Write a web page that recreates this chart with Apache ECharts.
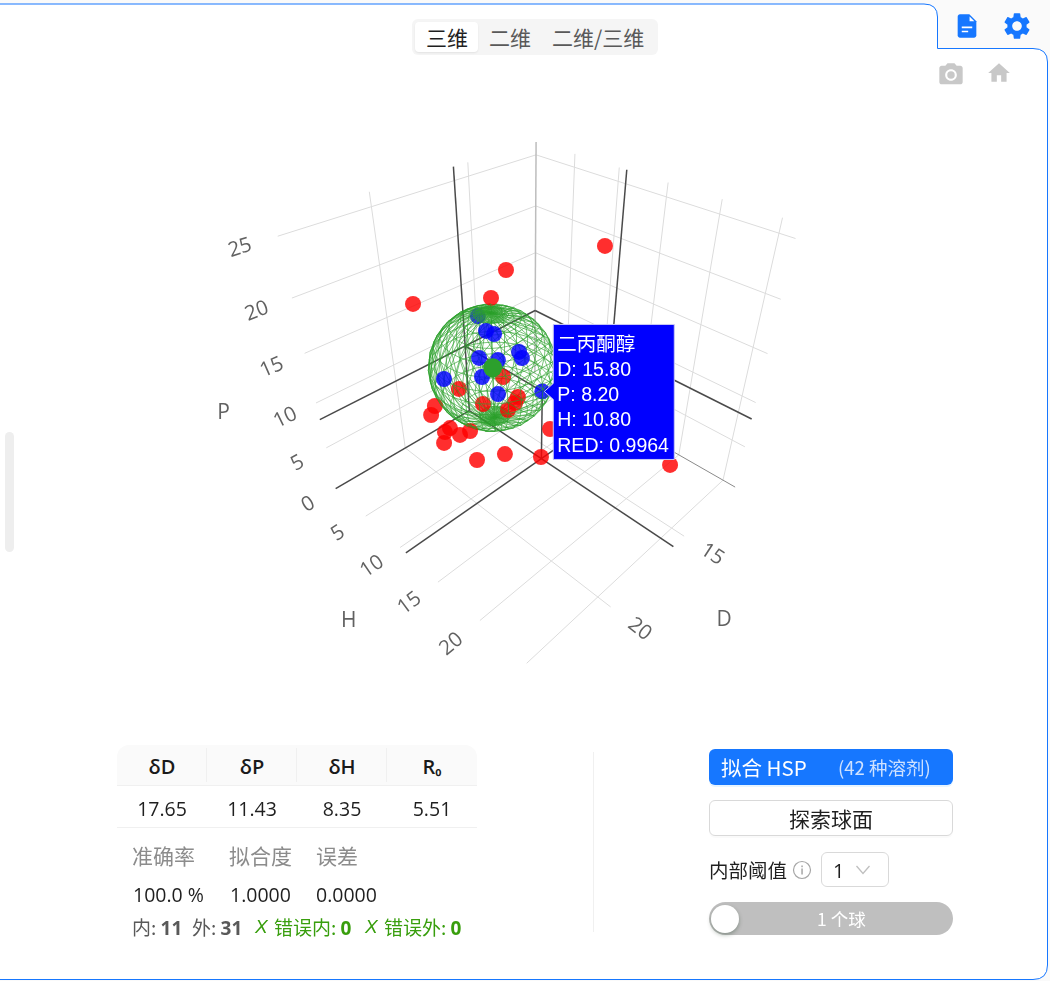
<!DOCTYPE html>
<html lang="zh-CN"><head><meta charset="utf-8"><title>HSP 三维视图</title>
<script src="https://cdn.jsdelivr.net/npm/echarts@6/dist/echarts.min.js"></script>
<style>
html,body{margin:0;padding:0;width:1050px;height:981px;overflow:hidden;background:#fafafa;font-family:"Open Sans","Noto Sans CJK SC",sans-serif;color:#1f1f1f}
#frame,#chart,#ui{position:absolute;left:0;top:0;width:1050px;height:981px}
#ui{pointer-events:none}
.a{position:absolute;white-space:nowrap;line-height:1}
.cjk{font-family:"Noto Sans CJK SC","Noto Sans",sans-serif;font-weight:400}
.box{position:absolute;box-sizing:border-box}
.c{transform:translateX(-50%)}
.head{font-weight:600;font-size:20px;top:757px;color:#1a1a1a}
.val{font-size:19.5px;top:799px;color:#1f1f1f}
.lab{font-size:21px;top:845px;color:#8c8c8c}
.num{font-size:19.5px;top:885px;color:#1f1f1f}
.st{font-size:19px;top:917px;color:#595959}
.st b{font-family:"Open Sans";font-weight:700}
.ok{color:#389e0d}
</style></head>
<body>
<svg id="frame" viewBox="0 0 1050 981"><path d="M-3 4H924Q937.500 4 937.500 17V48.500H1033Q1047.500 48.500 1047.500 62V965Q1047.500 979.500 1033 979.500H-3Z" fill="#fff" stroke="#1677ff" stroke-width="1"/></svg>
<div id="chart"></div>
<div id="ui">
  <div class="box" style="left:5px;top:432px;width:9px;height:120px;background:#eee;border-radius:5px"></div>

  <div class="box" style="left:412px;top:19px;width:246px;height:36px;background:#f5f5f5;border-radius:6px"></div>
  <div class="box" style="left:415px;top:22px;width:63px;height:30px;background:#fff;border-radius:4px;box-shadow:0 1px 2px rgba(0,0,0,.08)"></div>
  <span class="a cjk" style="left:426px;top:27px;font-size:21px;color:#1f1f1f">三维</span>
  <span class="a cjk" style="left:489px;top:27px;font-size:21px;color:#595959">二维</span>
  <span class="a cjk" style="left:552px;top:27px;font-size:21px;color:#595959">二维/三维</span>

  <svg class="box" style="left:953px;top:12px" width="28" height="28" viewBox="0 0 24 24"><path fill="#1677ff" d="M14 2H6c-1.100 0-2 .9-2 2v16c0 1.100.9 2 2 2h12c1.100 0 2-.9 2-2V8l-6-6z"/><path fill="#fff" d="M14.200 3.800 18.300 8h-4.100zM7.500 12.500h9v1.400h-9zM7.500 16h5.500v1.400H7.500z"/></svg>
  <svg class="box" style="left:1001px;top:10px" width="32" height="32" viewBox="0 0 24 24"><path fill="#1677ff" d="M19.140 12.940c.04-.3.06-.61.06-.94 0-.32-.02-.64-.07-.94l2.030-1.580a.49.49 0 0 0 .12-.61l-1.920-3.320a.488.488 0 0 0-.59-.22l-2.390.96c-.5-.38-1.030-.7-1.620-.94l-.36-2.540a.484.484 0 0 0-.48-.41h-3.840c-.24 0-.43.17-.47.41l-.36 2.540c-.59.24-1.130.57-1.620.94l-2.390-.96c-.22-.08-.47 0-.59.22L2.740 8.870c-.12.21-.08.47.12.61l2.030 1.580c-.05.3-.09.63-.09.94s.02.64.07.94l-2.030 1.580a.49.49 0 0 0-.12.61l1.920 3.320c.12.22.37.29.59.22l2.390-.96c.5.38 1.030.7 1.620.94l.36 2.540c.05.24.24.41.48.41h3.840c.24 0 .44-.17.47-.41l.36-2.540c.59-.24 1.130-.56 1.620-.94l2.390.96c.22.08.47 0 .59-.22l1.920-3.320c.12-.22.07-.47-.12-.61l-2.010-1.580zM12 15.600c-1.980 0-3.600-1.620-3.600-3.600s1.620-3.600 3.600-3.600 3.600 1.620 3.600 3.600-1.620 3.600-3.600 3.600z"/></svg>
  <svg class="box" style="left:937px;top:61px" width="28" height="28" viewBox="0 0 24 24"><path fill="#c8c8c8" d="M9 2 7.170 4H4c-1.100 0-2 .9-2 2v12c0 1.100.9 2 2 2h16c1.100 0 2-.9 2-2V6c0-1.100-.9-2-2-2h-3.170L15 2H9zm3 15c-2.760 0-5-2.240-5-5s2.240-5 5-5 5 2.240 5 5-2.240 5-5 5z"/><circle cx="12" cy="12" r="3.200" fill="#c8c8c8"/></svg>
  <svg class="box" style="left:986px;top:60px" width="26" height="26" viewBox="0 0 24 24"><path fill="#c8c8c8" d="M10 20v-6h4v6h5v-8h3L12 3 2 12h3v8z"/></svg>

  <div class="box" style="left:117px;top:745px;width:360px;height:41px;background:#fafafa;border-radius:12px 12px 0 0;border-bottom:1px solid #f0f0f0"></div>
  <div class="box" style="left:206px;top:748px;width:1px;height:34px;background:#f0f0f0"></div>
  <div class="box" style="left:296px;top:748px;width:1px;height:34px;background:#f0f0f0"></div>
  <div class="box" style="left:386px;top:748px;width:1px;height:34px;background:#f0f0f0"></div>
  <div class="box" style="left:117px;top:827px;width:360px;height:1px;background:#f0f0f0"></div>
  <span class="a c head" style="left:162px">δD</span><span class="a c head" style="left:252px">δP</span><span class="a c head" style="left:342px">δH</span><span class="a c head" style="left:432px">R<span style="font-size:17px">₀</span></span>
  <span class="a c val" style="left:162px">17.65</span><span class="a c val" style="left:252px">11.43</span><span class="a c val" style="left:342px">8.35</span><span class="a c val" style="left:432px">5.51</span>
  <span class="a lab cjk" style="left:132px">准确率</span><span class="a lab cjk" style="left:229px">拟合度</span><span class="a lab cjk" style="left:316px">误差</span>
  <span class="a num" style="left:133px">100.0 %</span><span class="a num" style="left:230px">1.0000</span><span class="a num" style="left:316px">0.0000</span>
  <span class="a st cjk" style="left:132px">内: <b>11</b></span><span class="a st cjk" style="left:192px">外: <b>31</b></span>
  <span class="a st ok" style="left:255px;font-family:'Liberation Sans';font-style:italic;font-weight:400">X</span><span class="a st cjk ok" style="left:274px">错误内: <b>0</b></span>
  <span class="a st ok" style="left:365px;font-family:'Liberation Sans';font-style:italic;font-weight:400">X</span><span class="a st cjk ok" style="left:384px">错误外: <b>0</b></span>

  <div class="box" style="left:593px;top:752px;width:1px;height:180px;background:#f0f0f0"></div>

  <div class="box" style="left:709px;top:749px;width:244px;height:36px;background:#1677ff;border-radius:6px;box-shadow:0 2px 0 rgba(5,145,255,.1)"></div>
  <span class="a cjk" style="left:721px;top:757px;font-size:20.500px;color:#fff">拟合 HSP</span>
  <span class="a cjk" style="left:838px;top:758px;font-size:18.500px;color:#cfe2ff">(42 种溶剂)</span>
  <div class="box" style="left:709px;top:800px;width:244px;height:36px;background:#fff;border:1px solid #d9d9d9;border-radius:6px;box-shadow:0 2px 0 rgba(0,0,0,.02)"></div>
  <span class="a cjk" style="left:789px;top:808px;font-size:21px;color:#1f1f1f">探索球面</span>
  <span class="a cjk" style="left:709px;top:860px;font-size:19.500px;color:#1f1f1f">内部阈值</span>
  <svg class="box" style="left:792px;top:860px" width="20" height="20" viewBox="0 0 20 20"><circle cx="10" cy="10" r="8.500" fill="none" stroke="#a6a6a6" stroke-width="1.200"/><rect x="9.300" y="8.500" width="1.500" height="6" fill="#a6a6a6"/><rect x="9.300" y="5.500" width="1.500" height="1.700" fill="#a6a6a6"/></svg>
  <div class="box" style="left:821px;top:852px;width:68px;height:35px;background:#fff;border:1px solid #d9d9d9;border-radius:6px"></div>
  <span class="a" style="left:833px;top:861px;font-size:20px">1</span>
  <svg class="box" style="left:855px;top:864px" width="16" height="12" viewBox="0 0 16 12"><path d="M1.500 2 8 9.500 14.500 2" fill="none" stroke="#bfbfbf" stroke-width="1.300"/></svg>
  <div class="box" style="left:709px;top:902px;width:244px;height:33px;background:#bfbfbf;border-radius:17px"></div>
  <div class="box" style="left:711px;top:905px;width:28px;height:28px;background:#fff;border-radius:50%;box-shadow:0 2px 4px rgba(0,35,11,.3)"></div>
  <span class="a cjk" style="left:817px;top:910px;font-size:17.500px;color:#fff">1 个球</span>
</div>
<script>
// Fitted solvents, Hansen parameters
const insideD = [17.31, 17.26, 17.05, 16.56, 16.58, 17.92, 17.35, 18.16, 19.47, 17.97, 15.80];
const insideP = [15.32, 14.15, 13.90, 12.55, 12.12, 12.18, 11.97, 10.81, 10.94, 9.60, 8.20];
const insideH = [5.93, 6.79, 7.34, 9.40, 9.79, 7.24, 8.39, 8.06, 6.12, 9.63, 10.80];
const outsideD = [13.09, 15.87, 16.65, 19.36, 20.01, 20.60, 20.23, 20.48, 20.04, 19.20, 20.74, 20.04, 19.03, 18.04, 17.15, 15.30, 17.91, 17.34, 16.02, 16.29, 16.74, 15.86, 14.85, 14.74, 13.65, 14.23, 16.29, 15.45, 15.53, 15.17, 15.14];
const outsideP = [21.33, 18.90, 16.69, 16.74, 8.48, 8.71, 7.70, 7.51, 7.20, 6.22, 6.88, 5.66, 5.89, 5.80, 7.47, 7.35, 7.16, 5.85, 6.33, 6.01, 5.65, 7.29, 13.04, 11.69, 14.04, 10.66, 8.23, 8.24, 9.95, 8.13, 9.62];
const outsideH = [12.58, 6.51, 6.22, 2.46, 5.92, 6.90, 8.39, 8.31, 9.21, 8.52, 8.75, 11.28, 12.60, 14.97, 14.32, 24.20, 4.10, 6.09, 8.08, 8.24, 8.21, 5.74, 13.39, 15.55, 16.83, 20.20, 15.62, 19.19, 15.33, 21.39, 17.48];
const meshedInside = [0, 10];

// Fitted Hansen sphere
const sphereD = 17.65, sphereP = 11.43, sphereH = 8.35, sphereR = 5.51;

// Hovered solvent
const hoverName = '二丙酮醇';
const hoverD = 15.80, hoverP = 8.20, hoverH = 10.80, hoverRED = 0.9964;

// Axis ranges and ticks
const rangeD = [10.82, 23.96], rangeH = [0.2, 26.3], rangeP = [0, 26.2];
const ticksD = [15, 20];
const ticksH = [5, 10, 15, 20, 25];
const ticksP = [0, 5, 10, 15, 20, 25];
const labelledH = [5, 10, 15, 20];

// Scene camera: projective map from the unit box to the page
const camX = [-265.4446, 62.9815, -102.4730, 534.8334];
const camY = [19.7063, 23.6603, -257.9960, 372.4400];
const camW = [-0.1974, -0.1868, -0.1935, 1];

function project(D, P, H) {
  const u = (D - rangeD[0]) / (rangeD[1] - rangeD[0]);
  const v = (H - rangeH[0]) / (rangeH[1] - rangeH[0]);
  const w = (P - rangeP[0]) / (rangeP[1] - rangeP[0]);
  const row = m => m[0] * u + m[1] * v + m[2] * w + m[3];
  const d = row(camW);
  return [row(camX) / d, row(camY) / d];
}
const seg = (a, b) => ({ coords: [project(...a), project(...b)] });
const [Dl, Dh] = rangeD, [Hl, Hh] = rangeH, [Pl, Ph] = rangeP;

// Walls and floor
const gridSegs = [];
ticksD.forEach(d => {
  gridSegs.push(seg([d, Pl, Hl], [d, Pl, Hh]));
  gridSegs.push(seg([d, Pl, Hl], [d, Ph, Hl]));
});
ticksH.forEach(h => {
  gridSegs.push(seg([Dl, Pl, h], [Dh, Pl, h]));
  gridSegs.push(seg([Dl, Pl, h], [Dl, Ph, h]));
});
ticksP.filter(p => p > 0).forEach(p => {
  gridSegs.push(seg([Dl, p, Hl], [Dh, p, Hl]));
  gridSegs.push(seg([Dl, p, Hl], [Dl, p, Hh]));
});
gridSegs.push(seg([Dl, Pl, Hl], [hoverD, Pl, Hl]));

// Spike lines from the hovered solvent to the walls and floor
const spikeSegs = [
  seg([hoverD, hoverP, hoverH], [hoverD, Pl, hoverH]),
  seg([hoverD, hoverP, hoverH], [hoverD, hoverP, Hl]),
  seg([hoverD, hoverP, hoverH], [Dl, hoverP, hoverH]),
  seg([hoverD, Pl, Hl], [hoverD, Pl, Hh]),
  seg([Dl, Pl, hoverH], [Dh, Pl, hoverH]),
  seg([hoverD, Pl, Hl], [hoverD, Ph, Hl]),
  seg([Dl, hoverP, Hl], [Dh, hoverP, Hl]),
  seg([Dl, Pl, hoverH], [Dl, Ph, hoverH]),
  seg([Dl, hoverP, Hl], [Dl, hoverP, Hh]),
  seg([hoverD, Pl, Hl], [Dh, Pl, Hl])
];

// Wireframe of the sphere, with the rings packed tighter round both poles;
// δD counts double in the Hansen distance
const meshLats = [];
for (let a = 1.5; a <= 15; a += 1.5) meshLats.push(a);
for (let a = 27; a <= 153; a += 12) meshLats.push(a);
for (let a = 165; a <= 178.5; a += 1.5) meshLats.push(a);
const meshMeridians = 30;
function spherePoint(latDeg, j) {
  const lat = latDeg * Math.PI / 180, lon = 2 * Math.PI * j / meshMeridians;
  return [sphereD + sphereR / 2 * Math.sin(lat) * Math.cos(lon), sphereP + sphereR * Math.cos(lat), sphereH + sphereR * Math.sin(lat) * Math.sin(lon)];
}
const meshBack = [], meshFront = [];
const allLats = [0, ...meshLats, 180];
const cellArea = (a, b, c) => {
  const p = project(...a), q = project(...b), r = project(...c);
  return (q[0] - p[0]) * (r[1] - p[1]) - (q[1] - p[1]) * (r[0] - p[0]);
};
// The cells round the upper pole face the camera, so their winding marks the near side
const nearSign = Math.sign(cellArea(spherePoint(9, 0), spherePoint(15, 0), spherePoint(15, 1)));
for (let i = 0; i + 1 < allLats.length; i++) for (let j = 0; j < meshMeridians; j++) {
  const a = spherePoint(allLats[i], j), b = spherePoint(allLats[i + 1], j), c = spherePoint(allLats[i + 1], j + 1);
  const bucket = Math.sign(cellArea(a, b, c)) === nearSign ? meshFront : meshBack;
  bucket.push(seg(a, b));
  if (i > 0) bucket.push(seg(a, spherePoint(allLats[i], j + 1)));
  bucket.push(seg(a, c));
}

const redPts = outsideD.map((d, i) => project(d, outsideP[i], outsideH[i]));
const bluePts = insideD.map((d, i) => project(d, insideP[i], insideH[i]));
const blueUnder = bluePts.filter((_, i) => meshedInside.includes(i));
const blueOver = bluePts.filter((_, i) => !meshedInside.includes(i));

// Tick labels sit just outside the floor edges, turned along their grid lines
function tickLabel(text, at, from, to) {
  const a = project(...from), b = project(...to);
  const p = project(...at);
  return {
    value: p,
    label: { show: true, position: 'inside', formatter: String(text), rotate: -Math.atan2(b[1] - a[1], b[0] - a[0]) * 180 / Math.PI }
  };
}
const tickData = [
  ...ticksP.map(p => tickLabel(p, [Dh + 1.4, p, Hl], [Dh, p, Hl], [Dl, p, Hl])),
  ...labelledH.map(h => tickLabel(h, [Dh + 1.4, Pl, h], [Dh, Pl, h], [Dl, Pl, h])),
  ...ticksD.map(d => tickLabel(d, [d, Pl, Hh + 2.8], [d, Pl, Hl], [d, Pl, Hh]))
];
const titleData = [
  { value: project(Dh + 3.6, 13, Hl), label: { show: true, position: 'inside', formatter: 'P' } },
  { value: project(Dh + 3.5, Pl, 13), label: { show: true, position: 'inside', formatter: 'H' } },
  { value: project(17.4, Pl, Hh + 6.9), label: { show: true, position: 'inside', formatter: 'D' } }
];

const lineSeries = (data, color, width, z, opacity) => ({
  type: 'lines', coordinateSystem: 'cartesian2d', data, z, silent: true, animation: false, large: false,
  lineStyle: { color, width, opacity, curveness: 0 }, effect: { show: false }
});
const dotSeries = (data, color, size, z, opacity) => ({
  type: 'scatter', coordinateSystem: 'cartesian2d', data, z, symbol: 'circle', symbolSize: size, silent: true, animation: false,
  itemStyle: { color, opacity }
});
const textSeries = (data, size) => ({
  type: 'scatter', coordinateSystem: 'cartesian2d', data, z: 20, symbolSize: 1, silent: true, animation: false,
  itemStyle: { color: 'transparent' },
  label: { color: '#3a3a3a', fontFamily: 'Open Sans', fontSize: size }
});

// Hover box, pointing at the hovered solvent
const tip = project(hoverD, hoverP, hoverH);
const hoverLines = [hoverName, 'D: ' + hoverD.toFixed(2), 'P: ' + hoverP.toFixed(2), 'H: ' + hoverH.toFixed(2), 'RED: ' + hoverRED.toFixed(4)];
const hoverBox = {
  type: 'group', x: tip[0], y: tip[1], z: 100,
  children: [
    { type: 'polygon', z: 100, shape: { points: [[2, 0], [11, -8], [11, -67], [132, -67], [132, 68], [11, 68], [11, 8]] }, style: { fill: '#0000ff', stroke: '#c9c9f5', lineWidth: 1 } },
    ...hoverLines.map((t, i) => ({
      type: 'text', z: 101, style: { text: t, x: 15, y: -46 + i * 25.2, fill: '#fff', font: '19.5px "Liberation Sans","Noto Sans CJK SC",sans-serif', verticalAlign: 'middle', align: 'left' }
    }))
  ]
};

const chart = echarts.init(document.getElementById('chart'), null, { width: 1050, height: 981, renderer: 'canvas' });
chart.setOption({
  animation: false,
  backgroundColor: 'transparent',
  grid: { left: 0, right: 0, top: 0, bottom: 0 },
  xAxis: { type: 'value', min: 0, max: 1050, show: false },
  yAxis: { type: 'value', min: 0, max: 981, inverse: true, show: false },
  series: [
    lineSeries(gridSegs, '#dcdcdc', 1, 1, 1),
    lineSeries([seg([Dl, Pl, Hl], [Dl, Ph, Hl])], '#bdbdbd', 1.5, 2, 1),
    lineSeries([seg([Dl, Pl, hoverH], [Dl, Pl, Hh])], '#8a8a8a', 1, 2, 1),
    lineSeries(spikeSegs, '#4a4a4a', 1.5, 3, 1),
    lineSeries(meshBack, '#2ca02c', 0.8, 4, 0.8),
    dotSeries(redPts, '#ff0000', 16, 5, 0.82),
    dotSeries(blueUnder, '#0000ff', 16, 5, 0.82),
    lineSeries(meshFront, '#2ca02c', 0.8, 6, 0.8),
    dotSeries(blueOver, '#0000ff', 16, 7, 0.82),
    dotSeries([project(sphereD, sphereP, sphereH)], '#2ca02c', 19, 8, 1),
    textSeries(tickData, 20.5),
    textSeries(titleData, 21)
  ],
  graphic: [hoverBox]
});
</script>
</body></html>
